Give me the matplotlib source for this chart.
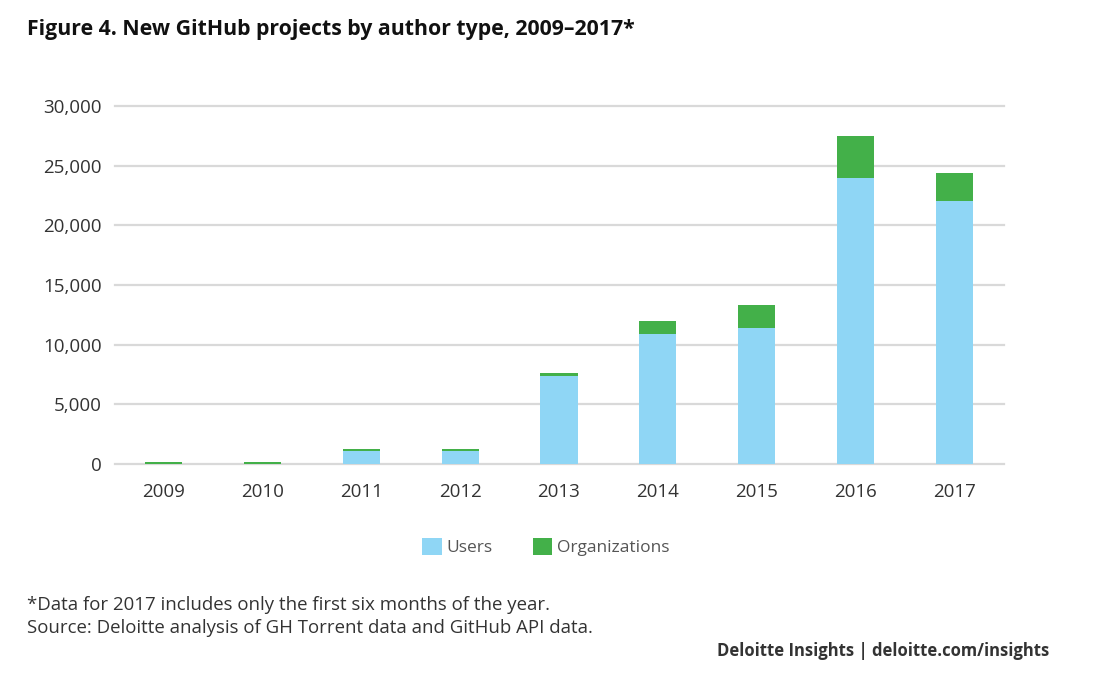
import matplotlib
matplotlib.use("Agg")
import matplotlib.pyplot as plt
from matplotlib.patches import Patch

years = ["2009", "2010", "2011", "2012", "2013", "2014", "2015", "2016", "2017"]
users = [20, 20, 1100, 1100, 7350, 10900, 11400, 23950, 22050]
orgs = [150, 150, 150, 150, 250, 1100, 1900, 3550, 2300]
yticks = [0, 5000, 10000, 15000, 20000, 25000, 30000]
ytick_labels = ["0", "5,000", "10,000", "15,000", "20,000", "25,000", "30,000"]

c_users = "#8fd6f5"
c_orgs = "#43b049"
txt = "#333333"

plt.rcParams["font.family"] = ["Open Sans", "DejaVu Sans"]

fig = plt.figure(figsize=(10.95, 6.76), dpi=100)
ax = fig.add_axes([114.5 / 1095, 1 - 464 / 676, (1003.5 - 114.5) / 1095, (464 - 106) / 676])

x = range(len(years))
ax.bar(x, users, width=0.375, color=c_users, zorder=3)
ax.bar(x, orgs, width=0.375, bottom=users, color=c_orgs, zorder=3)

ax.set_ylim(0, 30000)
ax.set_xlim(-0.5, len(years) - 0.5)
ax.set_yticks(yticks)
ax.set_yticklabels(ytick_labels)
ax.set_xticks(list(x))
ax.set_xticklabels(years)
ax.tick_params(axis="both", length=0, labelsize=13.5, colors=txt)
ax.tick_params(axis="y", pad=9)
ax.tick_params(axis="x", pad=14)
ax.yaxis.grid(True, color="#d9d9d9", linewidth=1.6, zorder=0)
for g in ax.get_ygridlines():
    g.set_clip_on(False)
for s in ax.spines.values():
    s.set_visible(False)

fig.text(27 / 1095, 1 - 30 / 676, "Figure 4. New GitHub projects by author type, 2009\u20132017*",
         fontsize=15.3, fontweight="bold", color="#111111", va="center", ha="left")

handles = [Patch(facecolor=c_users, label="Users"), Patch(facecolor=c_orgs, label="Organizations")]
fig.legend(handles=handles, loc="center", bbox_to_anchor=(546 / 1095, 1 - 547 / 676), ncol=2,
           frameon=False, fontsize=12.5, labelcolor="#555555", handlelength=1.1, handleheight=1.1,
           columnspacing=2.3, handletextpad=0.3)

fig.text(27 / 1095, 1 - 605 / 676, "*Data for 2017 includes only the first six months of the year.",
         fontsize=13.4, color=txt, va="center", ha="left")
fig.text(27 / 1095, 1 - 628 / 676, "Source: Deloitte analysis of GH Torrent data and GitHub API data.",
         fontsize=13.4, color=txt, va="center", ha="left")
fig.text(1049 / 1095, 1 - 651 / 676, "Deloitte Insights | deloitte.com/insights",
         fontsize=12, fontweight="bold", color="#333333", va="center", ha="right")

fig.savefig("out.png", dpi=100, facecolor="white")
